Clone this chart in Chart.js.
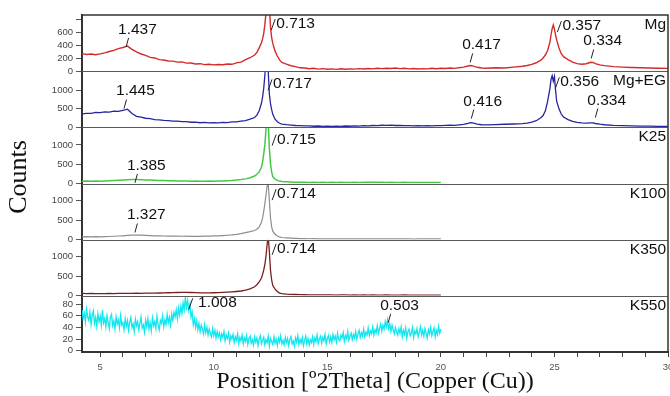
<!DOCTYPE html>
<html lang="en">
<head>
<meta charset="utf-8">
<title>XRD patterns - Mg, Mg+EG, K25, K100, K350, K550</title>
<script src="https://cdn.jsdelivr.net/npm/chart.js@4.4.1/dist/chart.umd.min.js"></script>
<style>
  html, body { margin: 0; padding: 0; background: #fff; }
  #chart-wrap { width: 670px; height: 396px; }
</style>
</head>
<body>
<div id="chart-wrap"><canvas id="xrd-chart" width="670" height="396"></canvas></div>
<script>
'use strict';

// ********** DATA **********

// 2theta positions shared by the smooth scans (K samples stop at 20.0)
let thetaGrid = [
  4.2, 4.4, 4.6, 4.8, 5.0, 5.2, 5.4, 5.6, 5.8, 6.0, 6.2, 6.4, 6.6, 6.8, 7.0, 7.2, 7.4, 7.6, 7.8, 8.0,
  8.2, 8.4, 8.6, 8.8, 9.0, 9.2, 9.4, 9.6, 9.8, 10.0, 10.2, 10.4, 10.6, 10.8, 11.0, 11.2, 11.4, 11.6,
  11.8, 11.9, 12.0, 12.1, 12.15, 12.2, 12.25, 12.3, 12.35, 12.4, 12.45, 12.5, 12.55, 12.6, 12.7, 12.8, 12.9, 13.0,
  13.2, 13.4, 13.6, 13.8, 14.0, 14.2, 14.4, 14.6, 14.8, 15.0, 15.2, 15.4, 15.6, 15.8, 16.0, 16.2, 16.4, 16.6,
  16.8, 17.0, 17.2, 17.4, 17.6, 17.8, 18.0, 18.2, 18.4, 18.6, 18.8, 19.0, 19.2, 19.4, 19.6, 19.8, 20.0,
  20.2, 20.4, 20.6, 20.8, 21.0, 21.2, 21.3, 21.4, 21.6, 21.8, 22.0, 22.4, 22.8, 23.2, 23.6, 23.8, 24.0, 24.2,
  24.4, 24.5, 24.6, 24.7, 24.8, 24.85, 24.9, 24.95, 25.0, 25.05, 25.1, 25.2, 25.3, 25.4, 25.6, 25.8, 26.0,
  26.2, 26.4, 26.6, 26.7, 26.8, 27.0, 27.2, 27.6, 28.0, 28.4, 28.8, 29.2, 29.6, 30.0
];

let mgCounts = [
  272, 258, 266, 255, 268, 284, 304, 322, 350, 366, 388, 338, 300, 266, 245, 214, 205, 178, 172, 158,
  155, 140, 144, 124, 126, 112, 116, 102, 108, 97, 104, 100, 110, 106, 128, 140, 180, 208,
  250, 290, 360, 440, 500, 580, 720, 900, 1100, 1250, 1000, 680, 520, 430, 310, 235, 175, 135,
  108, 84, 70, 52, 50, 38, 44, 32, 40, 30, 36, 28, 38, 30, 36, 32, 40, 34,
  42, 36, 44, 40, 46, 42, 48, 40, 44, 36, 42, 34, 40, 36, 44, 38, 46,
  42, 48, 44, 54, 62, 80, 88, 82, 60, 50, 46, 52, 50, 62, 76, 88, 104, 130,
  170, 205, 250, 320, 450, 560, 660, 715, 650, 560, 480, 360, 270, 225, 180, 140, 116,
  108, 115, 138, 135, 118, 98, 86, 70, 62, 56, 52, 48, 46, 44
];

let mgEgCounts = [
  362, 378, 380, 402, 398, 420, 414, 436, 432, 462, 490, 372, 298, 276, 246, 238, 210, 204, 186, 184,
  166, 170, 152, 156, 138, 142, 124, 134, 120, 130, 122, 136, 130, 146, 146, 170, 182, 220,
  265, 330, 450, 650, 820, 1050, 1400, 1800, 1900, 1500, 900, 640, 480, 350, 220, 150, 110, 88,
  72, 62, 50, 48, 38, 42, 30, 36, 26, 34, 24, 32, 28, 36, 30, 40, 34, 44,
  40, 50, 46, 56, 52, 60, 50, 54, 44, 48, 40, 46, 38, 44, 40, 48, 44,
  52, 58, 54, 66, 80, 110, 128, 118, 84, 70, 66, 74, 84, 90, 100, 112, 140, 180,
  260, 320, 450, 700, 1050, 1300, 1400, 1250, 1380, 1000, 700, 500, 360, 280, 210, 160, 135,
  118, 112, 118, 120, 104, 84, 70, 54, 44, 38, 34, 30, 28, 26
];

let k25Counts = [
  58, 62, 56, 64, 60, 66, 70, 76, 84, 90, 98, 104, 102, 98, 92, 88, 84, 80, 76, 72,
  70, 66, 64, 62, 60, 62, 58, 60, 62, 60, 64, 66, 72, 78, 88, 102, 120, 150,
  195, 240, 300, 420, 560, 760, 1000, 1400, 1700, 1550, 900, 500, 300, 180, 110, 80, 62, 52,
  44, 38, 34, 32, 30, 28, 32, 26, 30, 28, 32, 26, 30, 28, 26, 30, 28, 32,
  30, 34, 30, 32, 28, 30, 26, 28, 30, 26, 28, 24, 28, 26, 28, 24, 26
];

let k100Counts = [
  72, 76, 70, 78, 74, 80, 82, 88, 94, 100, 108, 116, 120, 116, 110, 104, 100, 98, 94, 92,
  90, 92, 88, 90, 86, 88, 86, 90, 92, 96, 100, 106, 114, 124, 138, 156, 180, 205,
  235, 270, 330, 440, 560, 720, 920, 1150, 1380, 1420, 1000, 560, 330, 220, 140, 95, 70, 56,
  46, 38, 32, 28, 26, 24, 26, 22, 24, 20, 22, 24, 20, 22, 18, 22, 20, 24,
  20, 22, 18, 20, 22, 18, 20, 22, 18, 20, 16, 20, 18, 22, 18, 20, 18
];

let k350Counts = [
  62, 56, 60, 54, 58, 56, 60, 58, 62, 60, 64, 62, 66, 64, 68, 66, 70, 72, 74, 78,
  80, 84, 86, 88, 84, 80, 76, 74, 76, 78, 82, 86, 92, 100, 110, 122, 145, 178,
  230, 280, 350, 450, 540, 650, 790, 1000, 1300, 1500, 1100, 640, 400, 260, 170, 110, 70, 54,
  44, 38, 34, 30, 28, 26, 24, 26, 22, 24, 22, 20, 24, 22, 20, 22, 18, 24,
  20, 22, 20, 18, 22, 20, 18, 20, 22, 18, 20, 18, 20, 16, 20, 18, 20
];

// K550 is a noisy scan, read point by point: 4.20 to 20.00 in 0.05 steps
let k550ScanStart = 4.2;
let k550ScanStep = 0.05;
let k550Counts = [
  70, 55, 64, 49, 71, 58, 52, 66, 45, 60, 68, 47, 57, 42, 63, 50, 59, 44, 70, 48,   // 4.20
  55, 41, 60, 49, 38, 57, 62, 43, 51, 37, 58, 46, 53, 39, 60, 44, 48, 36, 55, 42,   // 5.20
  52, 35, 49, 57, 40, 46, 33, 54, 43, 50, 36, 47, 58, 39, 44, 32, 52, 41, 55, 37,   // 6.20
  48, 34, 56, 43, 50, 38, 59, 44, 36, 52, 47, 60, 41, 53, 45, 62, 48, 57, 44, 63,   // 7.20
  52, 66, 58, 70, 55, 73, 61, 76, 64, 82, 70, 91, 74, 86, 69, 80, 58, 66, 45, 55,   // 8.20
  40, 52, 36, 47, 33, 44, 38, 29, 45, 31, 40, 27, 37, 30, 24, 38, 26, 35, 22, 33,   // 9.20
  24, 31, 19, 29, 23, 33, 17, 27, 21, 30, 15, 26, 20, 28, 14, 24, 18, 29, 13, 23,   // 10.20
  17, 27, 12, 22, 16, 26, 11, 21, 25, 13, 19, 10, 24, 15, 22, 9, 20, 26, 12, 18,    // 11.20
  23, 10, 19, 14, 25, 8, 21, 16, 11, 24, 13, 20, 9, 22, 15, 26, 12, 18, 10, 23,     // 12.20
  14, 21, 9, 19, 24, 12, 17, 8, 22, 15, 26, 11, 20, 13, 23, 9, 18, 25, 12, 21,      // 13.20
  10, 19, 14, 24, 11, 22, 16, 27, 12, 20, 25, 13, 23, 17, 28, 12, 21, 26, 15, 24,   // 14.20
  14, 28, 19, 25, 15, 30, 20, 17, 27, 22, 31, 16, 26, 21, 33, 18, 25, 30, 19, 28,   // 15.20
  22, 33, 20, 29, 35, 23, 31, 25, 37, 24, 32, 27, 39, 26, 34, 29, 41, 27, 36, 31,   // 16.20
  43, 30, 38, 46, 34, 44, 37, 50, 41, 53, 38, 46, 33, 44, 36, 29, 40, 32, 27, 38,   // 17.20
  30, 41, 24, 35, 28, 39, 22, 33, 37, 26, 31, 40, 23, 34, 29, 38, 24, 32, 41, 27,   // 18.20
  35, 25, 38, 30, 22, 36, 29, 40, 26, 33, 39, 24, 35, 28, 42, 30, 37                // 19.20
];

let panelNames = ['Mg', 'Mg+EG', 'K25', 'K100', 'K350', 'K550'];

// y range and tick values of every panel (counts)
let panelMin = [0, 0, 0, 0, 0, -2];
let panelMax = [870, 1520, 1455, 1445, 1420, 94];
let panelTicks = [
  [0, 200, 400, 600, 800],
  [0, 500, 1000, 1500],
  [0, 500, 1000],
  [0, 500, 1000],
  [0, 500, 1000],
  [0, 20, 40, 60, 80]
];
let panelLabelLimit = [600, 1000, 1000, 1000, 1000, 80];

// d-spacing labels (nm): [panel, 2theta, counts, text]
// pointer under the text
let topLabels = [
  [0, 6.14, 375, '1.437'], [0, 21.29, 136, '0.417'], [0, 26.62, 198, '0.334'],
  [1, 6.05, 510, '1.445'], [1, 21.34, 237, '0.416'], [1, 26.80, 264, '0.334'],
  [2, 6.53, 16, '1.385'], [3, 6.53, 185, '1.327'], [5, 17.68, 48, '0.503']
];
// slash in front of the text
let sideLabels = [
  [0, 12.53, 636, '0.713'], [0, 25.13, 605, '0.357'],
  [1, 12.39, 1000, '0.717'], [1, 25.04, 1055, '0.356'],
  [2, 12.57, 981, '0.715'], [3, 12.57, 1016, '0.714'], [4, 12.57, 1036, '0.714'],
  [5, 8.90, 71, ' 1.008']
];

// ********** STYLE **********

let panelIds = ['yMg', 'yMgEg', 'yK25', 'yK100', 'yK350', 'yK550'];
let lineColors = ['#d42a2a', '#26269e', '#46c846', '#8e8e8e', '#7a1e1e', '#12e6ee'];
let lineWidths = [1.4, 1.3, 1.5, 1.2, 1.3, 1.3];
let sansFont = '"Liberation Sans", Arial, sans-serif';
let serifFont = '"Liberation Serif", "Times New Roman", serif';

// ********** HELPERS **********

function toPoints(thetas, counts) {
  let pts = [];
  for (let i = 0; i < counts.length; i++) {
    pts.push({ x: thetas[i], y: counts[i] });
  }
  return pts;
}

function scanPoints(start, step, counts) {
  let pts = [];
  for (let i = 0; i < counts.length; i++) {
    pts.push({ x: Math.round((start + i * step) * 100) / 100, y: counts[i] });
  }
  return pts;
}

function strokeLine(ctx, x1, y1, x2, y2) {
  ctx.beginPath();
  ctx.moveTo(x1, y1);
  ctx.lineTo(x2, y2);
  ctx.stroke();
}

// ********** PLUGINS **********

// keep every trace inside its own panel
let panelClip = {
  id: 'panelClip',
  beforeDatasetDraw(chart, args) {
    let yScale = args.meta.yScale;
    let area = chart.chartArea;
    chart.ctx.save();
    chart.ctx.beginPath();
    chart.ctx.rect(area.left, yScale.top, area.right - area.left, yScale.bottom - yScale.top);
    chart.ctx.clip();
  },
  afterDatasetDraw(chart) {
    chart.ctx.restore();
  }
};

// frame, separators, panel names, d-spacing labels, y title
let panelDecor = {
  id: 'panelDecor',
  afterDatasetsDraw(chart) {
    let ctx = chart.ctx;
    let area = chart.chartArea;
    let xScale = chart.scales.x;
    ctx.save();

    ctx.strokeStyle = '#5a5a5a';
    ctx.lineWidth = 1;
    for (let i = 0; i < panelIds.length - 1; i++) {
      let y = Math.round(chart.scales[panelIds[i]].bottom) + 0.5;
      strokeLine(ctx, area.left, y, area.right, y);
    }

    ctx.strokeStyle = '#333';
    ctx.lineWidth = 1.5;
    ctx.beginPath();
    ctx.moveTo(area.left, area.top);
    ctx.lineTo(area.right, area.top);
    ctx.lineTo(area.right, area.bottom);
    ctx.stroke();

    ctx.fillStyle = '#111';
    ctx.font = '15.5px ' + sansFont;
    ctx.textBaseline = 'alphabetic';
    ctx.textAlign = 'right';
    for (let i = 0; i < panelNames.length; i++) {
      ctx.fillText(panelNames[i], area.right - 2, chart.scales[panelIds[i]].top + 14);
    }

    ctx.textAlign = 'left';
    ctx.strokeStyle = '#222';
    ctx.lineWidth = 1;
    for (let i = 0; i < topLabels.length; i++) {
      let lab = topLabels[i];
      let px = xScale.getPixelForValue(lab[1]);
      let py = chart.scales[panelIds[lab[0]]].getPixelForValue(lab[2]);
      strokeLine(ctx, px, py, px + 2.5, py - 9);
      ctx.fillText(lab[3], px - 8, py - 13);
    }
    for (let i = 0; i < sideLabels.length; i++) {
      let lab = sideLabels[i];
      let px = xScale.getPixelForValue(lab[1]);
      let py = chart.scales[panelIds[lab[0]]].getPixelForValue(lab[2]);
      strokeLine(ctx, px, py, px + 4, py - 11);
      ctx.fillText(lab[3], px + 5, py - 2);
    }

    // y axis title, shared by all panels
    ctx.font = '26px ' + serifFont;
    ctx.textAlign = 'center';
    ctx.translate(26, 177);
    ctx.rotate(-Math.PI / 2);
    ctx.fillText('Counts', 0, 0);

    ctx.restore();
  }
};

// ********** CHART **********

let datasets = [
  toPoints(thetaGrid, mgCounts),
  toPoints(thetaGrid, mgEgCounts),
  toPoints(thetaGrid, k25Counts),
  toPoints(thetaGrid, k100Counts),
  toPoints(thetaGrid, k350Counts),
  scanPoints(k550ScanStart, k550ScanStep, k550Counts)
].map(function (pts, i) {
  return {
    label: panelNames[i],
    data: pts,
    yAxisID: panelIds[i],
    borderColor: lineColors[i],
    borderWidth: lineWidths[i],
    pointRadius: 0,
    tension: 0,
    fill: false
  };
});

let scales = {
  x: {
    type: 'linear',
    position: 'bottom',
    min: 4.2,
    max: 30,
    ticks: {
      stepSize: 1,
      autoSkip: false,
      includeBounds: false,
      maxRotation: 0,
      padding: 5,
      color: '#555',
      font: { family: sansFont, size: 9.5 },
      callback: function (v) { return v % 5 === 0 ? v : ''; }
    },
    grid: { drawOnChartArea: false, tickLength: 5, color: '#444' },
    border: { color: '#333', width: 2 },
    title: {
      display: true,
      text: 'Position [º2Theta] (Copper (Cu))',
      color: '#111',
      font: { family: serifFont, size: 24 },
      padding: { top: 0, bottom: 0 }
    },
    afterFit: function (scale) {
      scale.height = 44;
      scale.paddingLeft = 0;
      scale.paddingRight = 0;
    }
  }
};

panelIds.forEach(function (id, i) {
  scales[id] = {
    type: 'linear',
    position: 'left',
    stack: 'panels',
    stackWeight: 1,
    weight: panelIds.length - i,
    min: panelMin[i],
    max: panelMax[i],
    afterBuildTicks: function (scale) {
      scale.ticks = panelTicks[i].map(function (v) { return { value: v }; });
    },
    ticks: {
      autoSkip: false,
      padding: 3,
      color: '#444',
      font: { family: sansFont, size: 9.5 },
      callback: function (v) { return v <= panelLabelLimit[i] ? v : ''; }
    },
    grid: { drawOnChartArea: false, tickLength: 6, color: '#555' },
    border: { color: '#333', width: 2 },
    afterFit: function (scale) {
      scale.width = 52;
      scale.paddingTop = 0;
      scale.paddingBottom = 0;
    }
  };
});

let ctx = document.getElementById('xrd-chart');

new Chart(ctx, { //eslint-disable-line
  type: 'line',
  data: { datasets: datasets },
  options: {
    responsive: false,
    maintainAspectRatio: false,
    devicePixelRatio: 1,
    animation: false,
    events: [],
    layout: { padding: { left: 30, right: 2, top: 15, bottom: 0 } },
    scales: scales,
    plugins: {
      legend: { display: false },
      tooltip: { enabled: false }
    }
  },
  plugins: [panelClip, panelDecor]
});
</script>
</body>
</html>
